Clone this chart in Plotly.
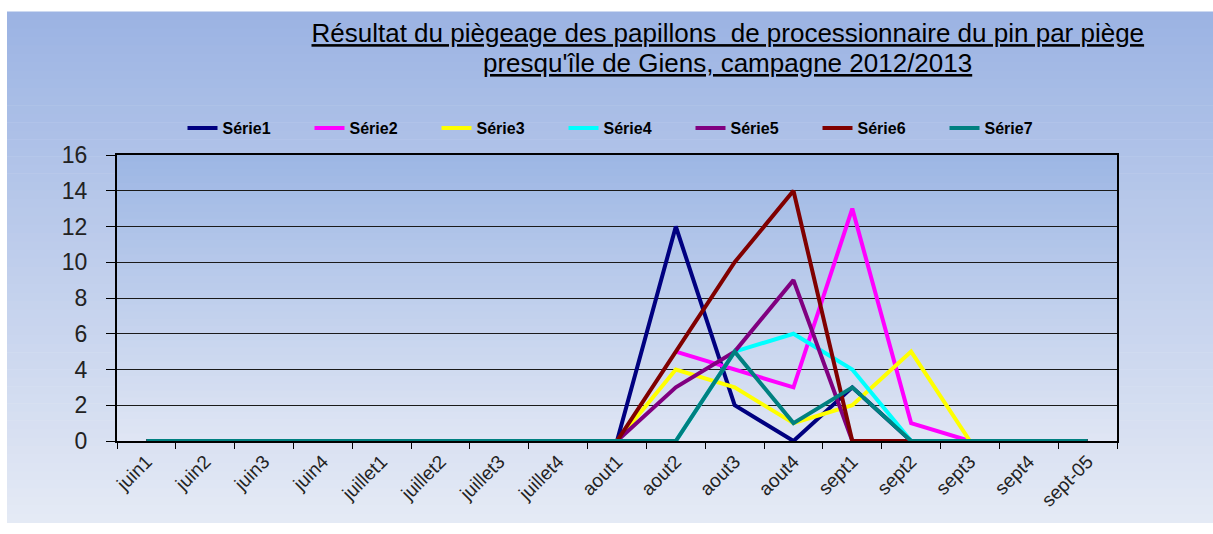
import plotly.graph_objects as go

categories = ['juin1', 'juin2', 'juin3', 'juin4', 'juillet1', 'juillet2', 'juillet3', 'juillet4',
              'aout1', 'aout2', 'aout3', 'aout4', 'sept1', 'sept2', 'sept3', 'sept4', 'sept-05']

serie1 = [0, 0, 0, 0, 0, 0, 0, 0, 0, 12, 2, 0, 3, 0, 0, 0, 0]
serie2 = [None, None, None, None, None, None, None, None, None, 5, 4, 3, 13, 1, 0, None, None]
serie3 = [0, 0, 0, 0, 0, 0, 0, 0, 0, 4, 3, 1, 2, 5, 0, 0, 0]
serie4 = [0, 0, 0, 0, 0, 0, 0, 0, 0, 0, 5, 6, 4, 0, 0, 0, 0]
serie5 = [0, 0, 0, 0, 0, 0, 0, 0, 0, 3, 5, 9, 0, 0, 0, 0, 0]
serie6 = [0, 0, 0, 0, 0, 0, 0, 0, 0, 5, 10, 14, 0, 0, 0, 0, 0]
serie7 = [0, 0, 0, 0, 0, 0, 0, 0, 0, 0, 5, 1, 3, 0, 0, 0, 0]

series_names = ['Série1', 'Série2', 'Série3', 'Série4', 'Série5', 'Série6', 'Série7']
series_values = [serie1, serie2, serie3, serie4, serie5, serie6, serie7]
series_colors = ['#000080', '#FF00FF', '#FFFF00', '#00FFFF', '#800080', '#800000', '#008080']

title_line1 = "Résultat du piègeage des papillons  de processionnaire du pin par piège"
title_line2 = "presqu'île de Giens, campagne 2012/2013"

FONT = 'Liberation Sans, Arial, sans-serif'

fig = go.Figure()
for name, vals, col in zip(series_names, series_values, series_colors):
    fig.add_trace(go.Scatter(x=categories, y=vals, name=name, mode='lines',
                             line=dict(color=col, width=4), connectgaps=False))


def lerp(c1, c2, t):
    return 'rgb(%d,%d,%d)' % tuple(round(a + (b - a) * t) for a, b in zip(c1, c2))


shapes = []
# chart-area gradient background
N = 60
bx0, bx1, by0, by1 = -0.11, 1.1, -0.287, 1.5
top_c, bot_c = (155, 179, 227), (229, 234, 245)
for i in range(N):
    y0 = by1 - (by1 - by0) * i / N
    y1 = by1 - (by1 - by0) * (i + 1) / N
    shapes.append(dict(type='rect', xref='paper', yref='paper', x0=bx0, x1=bx1, y0=y1, y1=y0 + 0.002,
                       fillcolor=lerp(top_c, bot_c, (i + 0.5) / N), line=dict(width=0), layer='below'))
# plot-area gradient
M = 40
ptop, pbot = (156, 182, 228), (224, 230, 244)
for i in range(M):
    y0 = 1 - i / M
    y1 = 1 - (i + 1) / M
    shapes.append(dict(type='rect', xref='paper', yref='paper', x0=0, x1=1, y0=y1, y1=y0 + 0.002 if i else y0,
                       fillcolor=lerp(ptop, pbot, (i + 0.5) / M), line=dict(width=0), layer='below'))

fig.update_layout(
    width=1213, height=534,
    margin=dict(l=117, r=96, t=155, b=93),
    paper_bgcolor='white',
    plot_bgcolor='rgba(0,0,0,0)',
    shapes=shapes,
    title=dict(text='<u>' + title_line1 + '</u>', x=0.6, xref='container', xanchor='center',
               y=1 - 33 / 534, yref='container', yanchor='middle',
               font=dict(family=FONT, size=26, color='black')),
    annotations=[dict(text='<u>' + title_line2 + '</u>', x=0.61, xref='paper', xanchor='center',
                      y=(441 - 63) / 286, yref='paper', yanchor='middle', showarrow=False,
                      font=dict(family=FONT, size=26, color='black'))],
    legend=dict(orientation='h', x=0.51, xanchor='center', y=1.094, yanchor='middle',
                font=dict(family=FONT, size=16, color='black', weight='bold'),
                bgcolor='rgba(0,0,0,0)', itemwidth=30, entrywidth=82, entrywidthmode='pixels'),
    xaxis=dict(type='category', range=[-0.5, 16.5], tickangle=-45, tickson='boundaries',
               ticks='outside', ticklen=6, tickcolor='black', tickwidth=1,
               showline=True, linecolor='black', linewidth=2, mirror=True,
               showgrid=False, tickfont=dict(family=FONT, size=19, color='#222222')),
    yaxis=dict(range=[0, 16], dtick=2, ticks='outside', ticklen=9, tickcolor='black', tickwidth=1,
               showline=True, linecolor='black', linewidth=2, mirror=True, ticklabelstandoff=14,
               showgrid=True, gridcolor='#1a1a1a', gridwidth=1, zeroline=False,
               tickfont=dict(family=FONT, size=23, color='#222222')),
    showlegend=True,
)

fig.write_html('out.html', config={'displayModeBar': False},
               post_script="document.body.style.margin='0';document.body.style.overflow='hidden';")
